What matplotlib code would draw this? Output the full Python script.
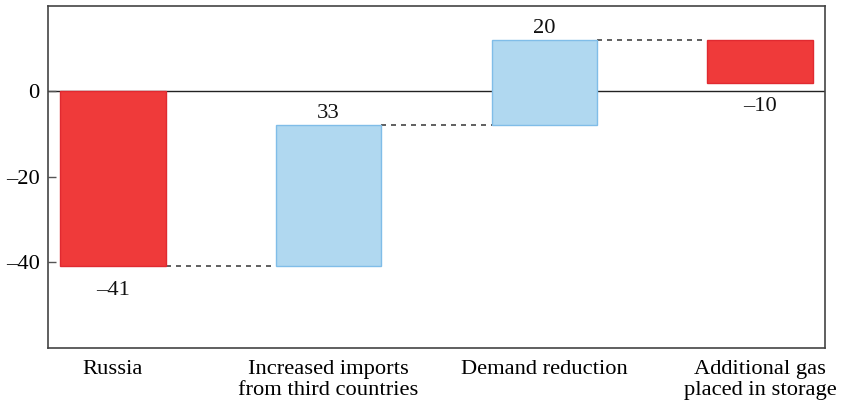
import matplotlib
matplotlib.use("Agg")
import matplotlib.pyplot as plt
import numpy as np

categories = ["Russia", "Increased imports\nfrom third countries", "Demand reduction", "Additional gas\nplaced in storage"]
changes = [-41, 33, 20, -10]
value_labels = ["\u201341", "33", "20", "\u201310"]
yticks = [0, -20, -40]
ytick_labels = ["0", "\u201320", "\u201340"]

plt.rcParams['font.family'] = ['Liberation Serif', 'DejaVu Serif']
FS = 16.2

fig = plt.figure(figsize=(8.42, 4.03), dpi=100)
ax = fig.add_axes([48/842, 1-347.7/403, (825-48)/842, (347.7-5.7)/403])

red_fc, red_ec = "#EF3A3A", "#E02A30"
blue_fc, blue_ec = "#B0D8F0", "#80BDE8"

x = np.arange(len(categories))
width = 0.49
starts = np.concatenate([[0], np.cumsum(changes)[:-1]])
ends = np.cumsum(changes)

ax.axhline(0, color="#222222", lw=1.0, zorder=1)

for i, (s, c) in enumerate(zip(starts, changes)):
    neg = c < 0
    ax.bar(x[i], c, bottom=s, width=width,
           color=red_fc if neg else blue_fc,
           edgecolor=red_ec if neg else blue_ec, linewidth=1.0, zorder=2)
    top = max(s, s + c)
    bot = min(s, s + c)
    if neg:
        ax.annotate(value_labels[i], (x[i], bot), xytext=(0, -10.5), textcoords="offset points",
                    ha="center", va="top", fontsize=FS, color="#111111")
    else:
        ax.annotate(value_labels[i], (x[i], top), xytext=(0, 1.5), textcoords="offset points",
                    ha="center", va="bottom", fontsize=FS, color="#111111")

for i in range(len(categories) - 1):
    ax.plot([x[i] + width/2, x[i+1] - width/2], [ends[i], ends[i]],
            ls=(0, (3, 3)), color="#444444", lw=1.2, zorder=1)

ax.set_xlim(-0.3, 3.3)
ax.set_ylim(-60, 20)
ax.set_yticks(yticks)
ax.set_yticklabels(ytick_labels, fontsize=FS)
ax.set_xticks(x)
ax.set_xticklabels(categories, fontsize=FS, linespacing=1.12)
ax.tick_params(axis="x", length=0, pad=9)
ax.tick_params(axis="y", direction="in", length=6, width=1, color="#555555", pad=6)
for sp in ax.spines.values():
    sp.set_color("#444444")
    sp.set_linewidth(1.2)

fig.savefig("out.png", dpi=100)
